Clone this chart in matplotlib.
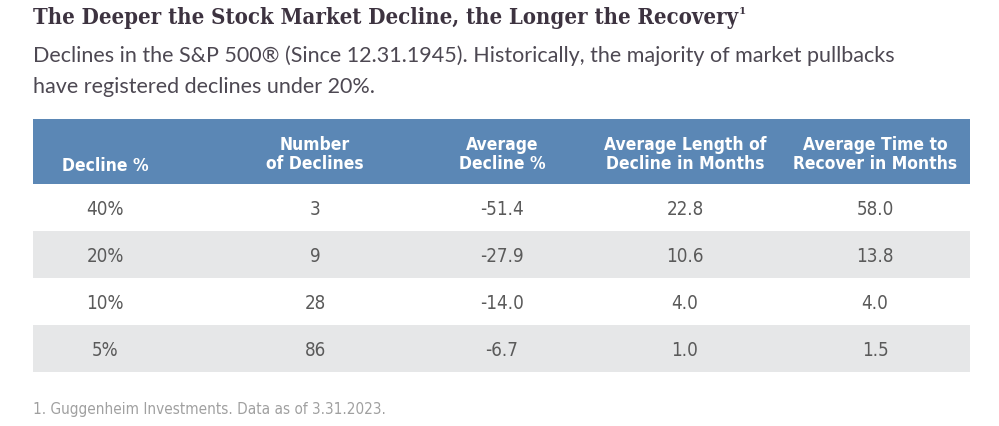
import matplotlib
matplotlib.use("Agg")
import matplotlib.pyplot as plt

# table data
headers = ["Decline %", "Number\nof Declines", "Average\nDecline %",
           "Average Length of\nDecline in Months", "Average Time to\nRecover in Months"]
decline = ["40%", "20%", "10%", "5%"]
n_declines = ["3", "9", "28", "86"]
avg_decline = ["-51.4", "-27.9", "-14.0", "-6.7"]
avg_length = ["22.8", "10.6", "4.0", "1.0"]
avg_recover = ["58.0", "13.8", "4.0", "1.5"]

title = "The Deeper the Stock Market Decline, the Longer the Recovery"
subtitle = ("Declines in the S&P 500\u00ae (Since 12.31.1945). Historically, the majority of market pullbacks\n"
            "have registered declines under 20%.")
footnote = "1. Guggenheim Investments. Data as of 3.31.2023."

fig = plt.figure(figsize=(9.99, 4.27), dpi=100)
ax = fig.add_axes([0, 0, 1, 1])
ax.set_xlim(0, 999)
ax.set_ylim(427, 0)
ax.axis("off")

left, right = 33, 970
col_x = [105, 315, 502, 685, 875]
head_top, head_bot = 120, 185
row_h = 47
cond = dict(family="DejaVu Sans", fontstretch="condensed")

# header band
ax.barh((head_top + head_bot) / 2, right - left, height=head_bot - head_top,
        left=left, color="#5b87b5")
for x, h in zip(col_x, headers):
    y = head_bot - 19 if "\n" not in h else (head_top + head_bot) / 2 + 2
    ax.text(x, y, h, ha="center", va="center", color="white",
            fontsize=12.5, fontweight="bold", linespacing=1.05, **cond)

rows = list(zip(decline, n_declines, avg_decline, avg_length, avg_recover))
for i, row in enumerate(rows):
    yc = head_bot + row_h * i + row_h / 2
    if i % 2 == 1:
        ax.barh(yc, right - left, height=row_h, left=left, color="#e6e7e8")
    for x, v in zip(col_x, row):
        ax.text(x, yc + 1, v, ha="center", va="center", color="#5a5a5a",
                fontsize=13.5, **cond)

t = ax.text(left, 18, title, ha="left", va="center", fontsize=15.8,
            fontweight="bold", family="DejaVu Serif", fontstretch="condensed",
            color="#3d3340")
fig.canvas.draw()
bb = t.get_window_extent()
ax.text(bb.x1 + 1, 11, "1", ha="left", va="center", fontsize=7.5,
        fontweight="bold", family="DejaVu Serif", color="#3d3340")
ax.text(left, 71, subtitle, ha="left", va="center", fontsize=15.5,
        family="Lato", color="#4d4852", linespacing=1.72)
ax.text(left, 410, footnote, ha="left", va="center", fontsize=11,
        color="#a0a0a0", **cond)

fig.savefig("out.png", dpi=100, facecolor="white")
